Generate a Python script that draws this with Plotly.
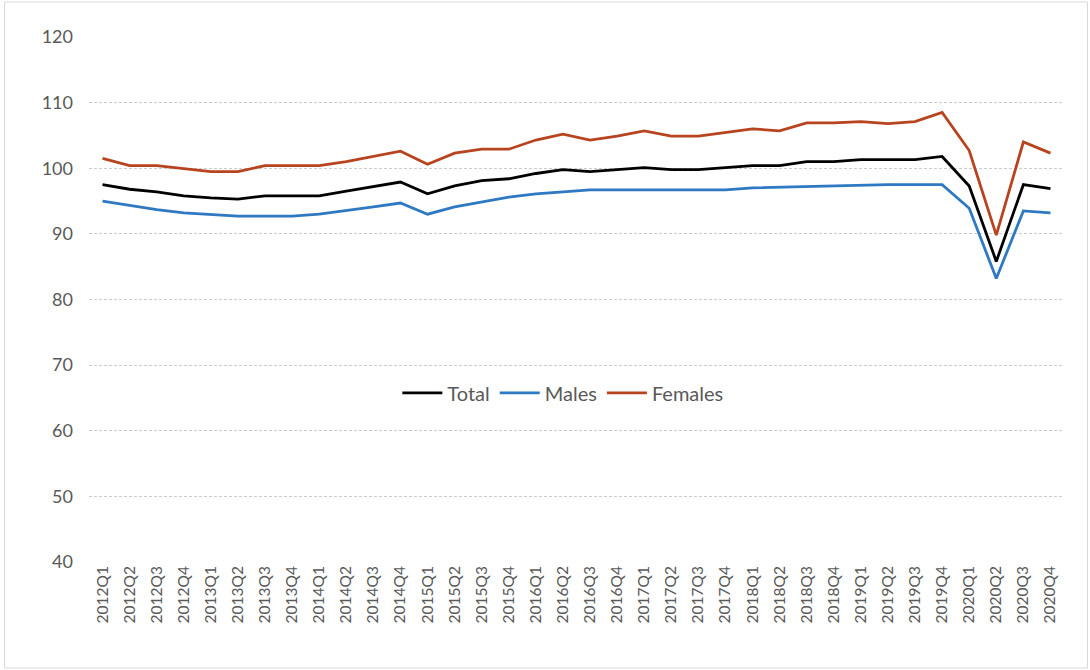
import plotly.graph_objects as go

quarters = [f'{y}Q{q}' for y in range(2012, 2021) for q in range(1, 5)]

total = [97.5, 96.8, 96.4, 95.8, 95.5, 95.3, 95.8, 95.8, 95.8, 96.5, 97.2, 97.9,
         96.1, 97.3, 98.1, 98.4, 99.2, 99.8, 99.5, 99.8, 100.1, 99.8, 99.8, 100.1,
         100.4, 100.4, 101.0, 101.0, 101.3, 101.3, 101.3, 101.8, 97.3, 85.8, 97.5, 96.9]
males = [95.0, 94.3, 93.7, 93.2, 92.9, 92.7, 92.7, 92.7, 93.0, 93.5, 94.1, 94.7,
         93.0, 94.1, 94.8, 95.6, 96.1, 96.4, 96.7, 96.7, 96.7, 96.7, 96.7, 96.7,
         97.0, 97.1, 97.2, 97.3, 97.5, 97.5, 97.5, 97.5, 93.9, 83.2, 93.5, 93.2]
females = [101.5, 100.4, 100.4, 100.0, 99.5, 99.5, 100.4, 100.4, 100.4, 101.0, 101.8, 102.6,
           100.6, 102.3, 102.9, 102.9, 104.3, 105.2, 104.3, 104.9, 105.7, 104.9, 104.9, 105.5,
           106.0, 105.7, 106.9, 106.9, 107.1, 106.8, 107.1, 108.5, 102.7, 89.8, 104.0, 102.3]

FONT = 'Lato'
TEXT = '#595959'
GRID = '#cccccc'

fig = go.Figure()
for name, vals, color in [('Total', total, '#000000'),
                          ('Males', males, '#2E79C2'),
                          ('Females', females, '#B8431F')]:
    fig.add_trace(go.Scatter(
        x = quarters,
        y = vals,
        name = name,
        mode = 'lines',
        line = dict(color = color, width = 2.8),
    ))

# outer chart border (Excel chart area)
fig.add_shape(type = 'rect', xref = 'paper', yref = 'paper',
              x0 = -0.0867, x1 = 1.0241, y0 = -0.2019, y1 = 1.0667,
              line = dict(color = '#d9d9d9', width = 1), layer = 'below')

fig.update_layout(
    width = 1090,
    height = 670,
    paper_bgcolor = 'white',
    plot_bgcolor = 'white',
    hovermode = False,
    font = dict(family = FONT, color = TEXT, size = 14),
    margin = dict(l = 89, r = 26, t = 37, b = 108),
    xaxis = dict(
        type = 'category',
        range = [-0.5, 35.5],
        tickangle = -90,
        showgrid = False,
        showline = False,
        zeroline = False,
        tickfont = dict(size = 15.5, color = TEXT),
    ),
    yaxis = dict(
        range = [40, 120],
        dtick = 10,
        showgrid = True,
        gridcolor = GRID,
        griddash = '3px,2px',
        gridwidth = 1,
        zeroline = False,
        showline = False,
        ticklabelstandoff = 15,
        tickfont = dict(size = 18, color = TEXT),
    ),
    legend = dict(
        orientation = 'h',
        x = 0.486,
        xanchor = 'center',
        y = 0.322,
        yanchor = 'middle',
        bgcolor = 'rgba(0,0,0,0)',
        font = dict(size = 20, color = TEXT),
        itemwidth = 40,
    ),
    showlegend = True,
)

# drop the default 8px page margin so the chart sits flush in the window
fig.write_html('out.html',
               config = {'displayModeBar': False, 'staticPlot': True},
               post_script = "document.body.style.margin = '0';")
